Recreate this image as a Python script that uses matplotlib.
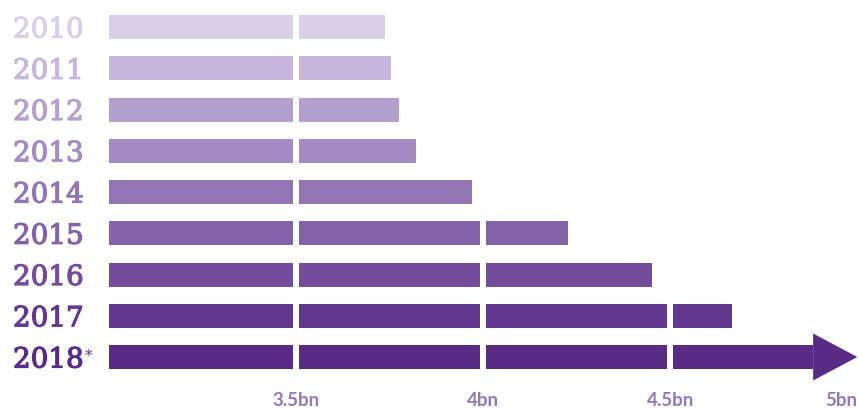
import numpy as np
import matplotlib
matplotlib.use("Agg")
from matplotlib import pyplot as plt
from matplotlib import patheffects

### data
years = ["2010", "2011", "2012", "2013", "2014", "2015", "2016", "2017", "2018"]
values = [3.737, 3.753, 3.776, 3.820, 3.970, 4.227, 4.450, 4.664, 5.0]  # bn
bar_colors = ["#d9d0e8", "#c6b6da", "#b3a0cc", "#a48bc2", "#9275b3",
              "#8462a8", "#734c9b", "#61388d", "#582b84"]
tick_values = [3.5, 4.0, 4.5, 5.0]
tick_labels = ["3.5bn", "4bn", "4.5bn", "5bn"]
x_start = 3.0

W, H = 858, 408
fig = plt.figure(figsize=(W / 100, H / 100), dpi=100)
ax = fig.add_axes([109 / W, 0, (857.3 - 109) / W, 1])
ax.set_xlim(x_start, 5.0)
row = 41.25
ax.set_ylim(8 + (H - 357) / row, -27 / row)
ax.axis("off")

bar_h = 24 / row
head_len = 0.118
head_h = 47 / row
for i, (v, c) in enumerate(zip(values, bar_colors)):
    if i == len(values) - 1:
        # last year is drawn as an arrow reaching the end of the scale
        ax.barh(i, v - head_len - x_start, left=x_start, height=bar_h,
                color=c, linewidth=0)
        ax.fill([v - head_len, v, v - head_len],
                [i - head_h / 2, i, i + head_h / 2], color=c, linewidth=0)
    else:
        ax.barh(i, v - x_start, left=x_start, height=bar_h, color=c, linewidth=0)

# white gaps at every half billion, only across the bars
for t in tick_values[:-1]:
    ax.vlines(t, -0.5, len(years) - 0.5, color="white", linewidth=6 * 0.72, zorder=5)

# year labels
lab_x = (13 - 109) / (857.3 - 109)
trans = ax.get_yaxis_transform()
last = None
for i, (y, c) in enumerate(zip(years, bar_colors)):
    last = ax.text(lab_x, i, y, transform=trans, ha="left", va="center_baseline",
                   fontsize=20, family="DejaVu Serif", color=c, clip_on=False,
                   path_effects=[patheffects.withStroke(linewidth=0.9, foreground=c)])
ax.annotate("*", xy=(1, 1), xycoords=last, xytext=(1, -2),
            textcoords="offset points", ha="left", va="top",
            fontsize=11, family="DejaVu Serif", color=bar_colors[-1])

# x labels
for t, lab in zip(tick_values, tick_labels):
    ax.text(t, 8 + (401 - 357) / row, lab, ha="right" if t == 5.0 else "center",
            va="center", fontsize=13.5, family="Lato", fontweight="bold",
            color="#9378b8", clip_on=False, zorder=6)

fig.savefig("out.png", dpi=100)
